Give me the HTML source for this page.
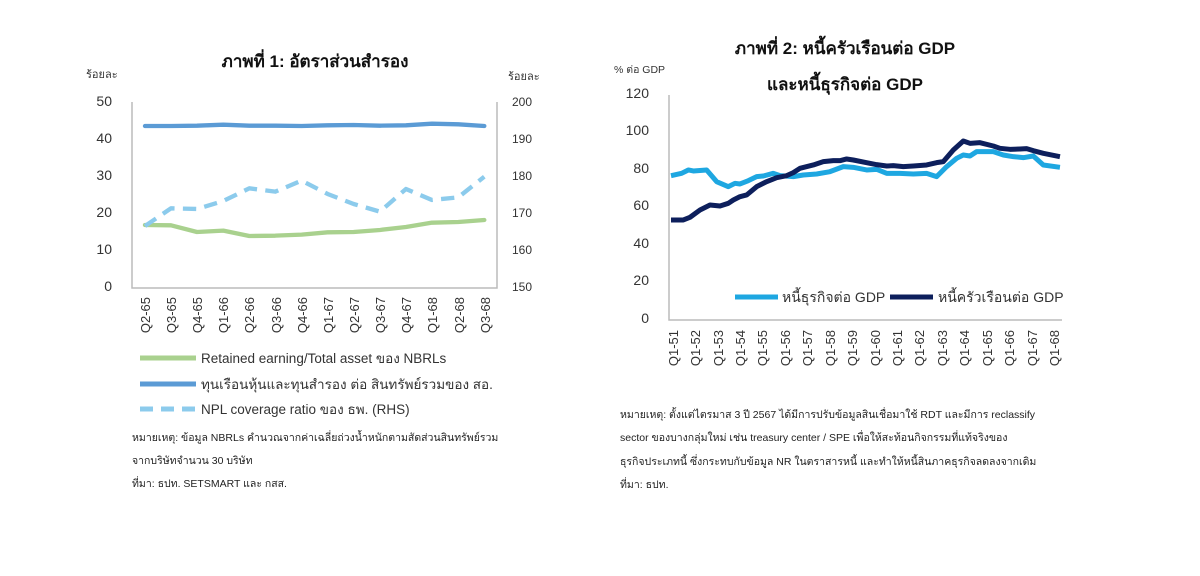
<!DOCTYPE html>
<html><head><meta charset="utf-8"><style>
body{margin:0;background:#fff;}
svg{display:block;font-family:"Liberation Sans",sans-serif;}
</style></head><body>
<svg width="1200" height="576" viewBox="0 0 1200 576" xmlns="http://www.w3.org/2000/svg">
<!-- Chart 1 -->
<text x="315" y="67" font-size="17" font-weight="bold" text-anchor="middle" fill="#111">ภาพที่ 1: อัตราส่วนสำรอง</text>
<text x="86" y="78" font-size="11" fill="#333">ร้อยละ</text>
<text x="508" y="80" font-size="11" fill="#333">ร้อยละ</text>
<g font-size="14" fill="#333" text-anchor="end">
<text x="112" y="106">50</text><text x="112" y="143">40</text><text x="112" y="180">30</text>
<text x="112" y="217">20</text><text x="112" y="254">10</text><text x="112" y="291">0</text>
</g>
<g font-size="12" fill="#333">
<text x="512" y="106">200</text><text x="512" y="143">190</text><text x="512" y="180">180</text>
<text x="512" y="217">170</text><text x="512" y="254">160</text><text x="512" y="291">150</text>
</g>
<path d="M132,102V288H497V102" fill="none" stroke="#bbb" stroke-width="1.5"/>
<g transform="translate(80,40) scale(0.3333)" fill="none" stroke-linejoin="round">
<polyline stroke="#5b9bd5" stroke-width="13" stroke-linecap="round" points="195,258 273,258 351,257 430,254 508,257 586,257 665,258 743,256 821,255 900,257 978,256 1056,251 1135,253 1213,258"/>
<polyline stroke="#a9d18e" stroke-width="13" stroke-linecap="round" points="195,555 273,556 351,576 430,572 508,588 586,587 665,584 743,577 821,576 900,570 978,561 1056,548 1135,546 1213,540"/>
<polyline stroke="#8ccbec" stroke-width="13" stroke-dasharray="40,25" points="195,558 273,505 351,507 430,483 508,445 586,455 665,422 743,462 821,492 900,515 978,447 1056,480 1135,472 1213,410"/>
</g>
<g font-size="13" fill="#333" text-anchor="end">
<text transform="translate(150,297) rotate(-90)">Q2-65</text>
<text transform="translate(176,297) rotate(-90)">Q3-65</text>
<text transform="translate(202,297) rotate(-90)">Q4-65</text>
<text transform="translate(228,297) rotate(-90)">Q1-66</text>
<text transform="translate(254,297) rotate(-90)">Q2-66</text>
<text transform="translate(281,297) rotate(-90)">Q3-66</text>
<text transform="translate(307,297) rotate(-90)">Q4-66</text>
<text transform="translate(333,297) rotate(-90)">Q1-67</text>
<text transform="translate(359,297) rotate(-90)">Q2-67</text>
<text transform="translate(385,297) rotate(-90)">Q3-67</text>
<text transform="translate(411,297) rotate(-90)">Q4-67</text>
<text transform="translate(437,297) rotate(-90)">Q1-68</text>
<text transform="translate(464,297) rotate(-90)">Q2-68</text>
<text transform="translate(490,297) rotate(-90)">Q3-68</text>
</g>
<line x1="140" y1="358" x2="196" y2="358" stroke="#a9d18e" stroke-width="5"/>
<line x1="140" y1="384" x2="196" y2="384" stroke="#5b9bd5" stroke-width="5"/>
<line x1="140" y1="409" x2="196" y2="409" stroke="#8ccbec" stroke-width="5" stroke-dasharray="13,8"/>
<g font-size="13.5" fill="#333">
<text x="201" y="363">Retained earning/Total asset ของ NBRLs</text>
<text x="201" y="389">ทุนเรือนหุ้นและทุนสำรอง ต่อ สินทรัพย์รวมของ สอ.</text>
<text x="201" y="414">NPL coverage ratio ของ ธพ. (RHS)</text>
</g>
<g font-size="10.5" fill="#222">
<text x="132" y="441">หมายเหตุ: ข้อมูล NBRLs คำนวณจากค่าเฉลี่ยถ่วงน้ำหนักตามสัดส่วนสินทรัพย์รวม</text>
<text x="132" y="464">จากบริษัทจำนวน 30 บริษัท</text>
<text x="132" y="487">ที่มา: ธปท. SETSMART และ กสส.</text>
</g>
<!-- Chart 2 -->
<text x="845" y="54" font-size="17" font-weight="bold" text-anchor="middle" fill="#111">ภาพที่ 2: หนี้ครัวเรือนต่อ GDP</text>
<text x="845" y="90" font-size="17" font-weight="bold" text-anchor="middle" fill="#111">และหนี้ธุรกิจต่อ GDP</text>
<text x="614" y="73" font-size="10.5" fill="#333">% ต่อ GDP</text>
<g font-size="14" fill="#333" text-anchor="end">
<text x="649" y="98">120</text><text x="649" y="135">100</text><text x="649" y="173">80</text>
<text x="649" y="210">60</text><text x="649" y="248">40</text><text x="649" y="285">20</text><text x="649" y="323">0</text>
</g>
<path d="M669,95V320H1062" fill="none" stroke="#bbb" stroke-width="1.5"/>
<g transform="translate(600,30) scale(0.3333)" fill="none" stroke-linejoin="round" stroke-width="15">
<polyline stroke="#1ea7e1" points="213,437 245,430 265,420 280,423 320,420 350,455 385,470 405,460 420,462 445,452 470,440 490,438 520,430 540,437 580,440 610,435 650,432 690,425 730,410 760,412 800,420 830,418 860,430 900,430 940,432 980,430 1010,440 1040,410 1070,385 1090,375 1110,378 1130,365 1180,365 1210,375 1240,380 1270,383 1300,378 1330,405 1380,412"/>
<polyline stroke="#0d1f5c" points="213,570 250,570 270,562 300,540 330,525 360,528 385,520 400,510 420,500 440,495 470,470 500,455 530,443 560,437 580,428 600,415 640,405 670,395 700,392 720,392 740,387 760,390 800,398 830,404 860,408 880,407 910,410 940,408 980,405 1010,398 1030,395 1060,360 1090,333 1110,340 1140,338 1180,348 1200,355 1230,358 1260,357 1280,356 1300,362 1330,370 1380,380"/>
</g>
<line x1="735" y1="297" x2="778" y2="297" stroke="#1ea7e1" stroke-width="5"/>
<line x1="890" y1="297" x2="933" y2="297" stroke="#0d1f5c" stroke-width="5"/>
<g font-size="14" fill="#333">
<text x="782" y="302">หนี้ธุรกิจต่อ GDP</text>
<text x="938" y="302">หนี้ครัวเรือนต่อ GDP</text>
</g>
<g font-size="13" fill="#333" text-anchor="end">
<text transform="translate(678,330) rotate(-90)">Q1-51</text>
<text transform="translate(700,330) rotate(-90)">Q1-52</text>
<text transform="translate(723,330) rotate(-90)">Q1-53</text>
<text transform="translate(745,330) rotate(-90)">Q1-54</text>
<text transform="translate(767,330) rotate(-90)">Q1-55</text>
<text transform="translate(790,330) rotate(-90)">Q1-56</text>
<text transform="translate(812,330) rotate(-90)">Q1-57</text>
<text transform="translate(835,330) rotate(-90)">Q1-58</text>
<text transform="translate(857,330) rotate(-90)">Q1-59</text>
<text transform="translate(880,330) rotate(-90)">Q1-60</text>
<text transform="translate(902,330) rotate(-90)">Q1-61</text>
<text transform="translate(924,330) rotate(-90)">Q1-62</text>
<text transform="translate(947,330) rotate(-90)">Q1-63</text>
<text transform="translate(969,330) rotate(-90)">Q1-64</text>
<text transform="translate(992,330) rotate(-90)">Q1-65</text>
<text transform="translate(1014,330) rotate(-90)">Q1-66</text>
<text transform="translate(1037,330) rotate(-90)">Q1-67</text>
<text transform="translate(1059,330) rotate(-90)">Q1-68</text>
</g>
<g font-size="10.5" fill="#222">
<text x="620" y="418">หมายเหตุ: ตั้งแต่ไตรมาส 3 ปี 2567 ได้มีการปรับข้อมูลสินเชื่อมาใช้ RDT และมีการ reclassify</text>
<text x="620" y="441">sector ของบางกลุ่มใหม่ เช่น treasury center / SPE  เพื่อให้สะท้อนกิจกรรมที่แท้จริงของ</text>
<text x="620" y="465">ธุรกิจประเภทนี้ ซึ่งกระทบกับข้อมูล NR ในตราสารหนี้ และทำให้หนี้สินภาคธุรกิจลดลงจากเดิม</text>
<text x="620" y="488">ที่มา: ธปท.</text>
</g>
</svg>
</body></html>
